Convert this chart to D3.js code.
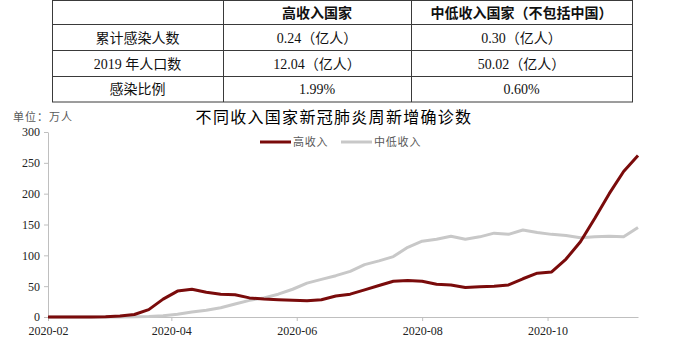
<!DOCTYPE html>
<html>
<head>
<meta charset="utf-8">
<script src="https://cdn.jsdelivr.net/npm/d3@7"></script>
<style>
  html, body { margin: 0; padding: 0; background: #fff; }
  svg { display: block; }
</style>
</head>
<body>
<svg id="chart" width="700" height="348"></svg>
<script>
// ---------- DATA ----------
const startDate = "2020-02-01";   // first weekly observation
const weekCount = 42;
const highIncome = [0, 0, 0, 0.2, 0.5, 1.5, 4, 12, 29, 42, 45, 40, 37, 36, 31, 29, 28, 27, 26.5, 28, 34,
  37, 44, 51, 58, 59, 58, 53, 52, 48, 49, 50, 52, 62, 71, 73, 94, 122, 160, 200, 236, 262];
const lowMidIncome = [0, 0, 0, 0, 0, 0, 0.3, 0.8, 2, 4.5, 8, 11, 15, 21, 27, 31, 37, 45, 55, 61, 67,
  74, 85, 91, 98, 113, 123, 126, 131, 126, 130, 136, 134, 141, 137, 134, 132, 128.5, 130, 131, 130, 145];
const seriesNames = ["高收入", "中低收入"];
const yTicks = [0, 50, 100, 150, 200, 250, 300];
const xTickLabels = ["2020-02", "2020-04", "2020-06", "2020-08", "2020-10"];

const tableHeader = ["", "高收入国家", "中低收入国家（不包括中国）"];
const tableRows = [
  ["累计感染人数", "0.24（亿人）", "0.30（亿人）"],
  ["2019 年人口数", "12.04（亿人）", "50.02（亿人）"],
  ["感染比例", "1.99%", "0.60%"]
];
const chartTitle = "不同收入国家新冠肺炎周新增确诊数";
const unitLabel = "单位：万人";

// ---------- BUILD ----------
const parse = d3.timeParse("%Y-%m-%d");
const t0 = parse(startDate);
const dates = d3.range(weekCount).map(i => d3.timeDay.offset(t0, i * 7));
const series = [
  { name: seriesNames[0], values: highIncome, color: "#7a0b0b" },
  { name: seriesNames[1], values: lowMidIncome, color: "#c8c8c8" }
];

const svg = d3.select("#chart");
const FONT = "'Liberation Serif', 'Noto Sans CJK SC', serif";
const CJK = "'Liberation Serif', 'Noto Sans CJK SC', sans-serif";

// ---------- TABLE ----------
const colX = [52, 223, 411, 632];
const rowY = [0.5, 24.5, 50.5, 76.5, 102];
const tg = svg.append("g");
const allRows = [tableHeader].concat(tableRows);
tg.append("rect")
  .attr("x", colX[0] + 0.5).attr("y", rowY[0])
  .attr("width", colX[3] - colX[0]).attr("height", rowY[4] - rowY[0])
  .attr("fill", "none").attr("stroke", "#3a3a3a").attr("stroke-width", 1);
colX.slice(1, 3).forEach(x => tg.append("line")
  .attr("x1", x + 0.5).attr("x2", x + 0.5).attr("y1", rowY[0]).attr("y2", rowY[4])
  .attr("stroke", "#3a3a3a"));
rowY.slice(1, 4).forEach(y => tg.append("line")
  .attr("x1", colX[0]).attr("x2", colX[3]).attr("y1", y).attr("y2", y)
  .attr("stroke", "#3a3a3a"));
allRows.forEach((row, r) => {
  row.forEach((cell, c) => {
    if (!cell) return;
    tg.append("text")
      .attr("x", (colX[c] + colX[c + 1]) / 2)
      .attr("y", (rowY[r] + rowY[r + 1]) / 2)
      .attr("dy", "0.36em")
      .attr("text-anchor", "middle")
      .attr("font-family", CJK)
      .attr("font-size", 14)
      .attr("font-weight", r === 0 ? 700 : 400)
      .attr("fill", "#111")
      .text(cell);
  });
});

// ---------- CHART ----------
const x = d3.scaleTime()
  .domain([dates[0], dates[dates.length - 1]])
  .range([48, 638]);
const y = d3.scaleLinear().domain([0, 300]).range([317, 132]);

const axisColor = "#bfbfbf";

const xAxis = d3.axisBottom(x)
  .tickValues(xTickLabels.map(s => d3.timeParse("%Y-%m")(s)))
  .tickFormat(d3.timeFormat("%Y-%m"))
  .tickSize(4).tickSizeOuter(0).tickPadding(5);
const gx = svg.append("g").attr("transform", "translate(0,317)").call(xAxis);
gx.select(".domain").attr("stroke", axisColor);
gx.selectAll(".tick line").attr("stroke", axisColor);
gx.selectAll("text").attr("font-family", FONT).attr("font-size", 12).attr("fill", "#222");

const yAxis = d3.axisLeft(y).tickValues(yTicks).tickSize(4).tickSizeOuter(0).tickPadding(4);
const gy = svg.append("g").attr("transform", "translate(48,0)").call(yAxis);
gy.select(".domain").attr("stroke", axisColor);
gy.selectAll(".tick line").attr("stroke", axisColor);
gy.selectAll("text").attr("font-family", FONT).attr("font-size", 12).attr("fill", "#222");

const line = d3.line().x((d, i) => x(dates[i])).y(d => y(d));
// draw grey first so red is on top where they cross
[series[1], series[0]].forEach(s => {
  svg.append("path")
    .datum(s.values)
    .attr("d", line)
    .attr("fill", "none")
    .attr("stroke", s.color)
    .attr("stroke-width", 3)
    .attr("stroke-linejoin", "round");
});

// title
svg.append("text")
  .attr("x", 334).attr("y", 123)
  .attr("text-anchor", "middle")
  .attr("font-family", CJK).attr("font-size", 16)
  .attr("letter-spacing", "1.3px")
  .attr("fill", "#000")
  .text(chartTitle);

// unit
svg.append("text")
  .attr("x", 13).attr("y", 121)
  .attr("font-family", CJK).attr("font-size", 11)
  .attr("letter-spacing", "1px")
  .attr("fill", "#595959")
  .text(unitLabel);

// legend
const legendItems = [
  { s: series[0], x: 260 },
  { s: series[1], x: 341 }
];
legendItems.forEach(it => {
  svg.append("line")
    .attr("x1", it.x).attr("x2", it.x + 31)
    .attr("y1", 142).attr("y2", 142)
    .attr("stroke", it.s.color).attr("stroke-width", 3);
  svg.append("text")
    .attr("x", it.x + 33).attr("y", 142).attr("dy", "0.36em")
    .attr("font-family", CJK).attr("font-size", 11)
    .attr("letter-spacing", "0.8px")
    .attr("fill", "#595959")
    .text(it.s.name);
});
</script>
</body>
</html>
